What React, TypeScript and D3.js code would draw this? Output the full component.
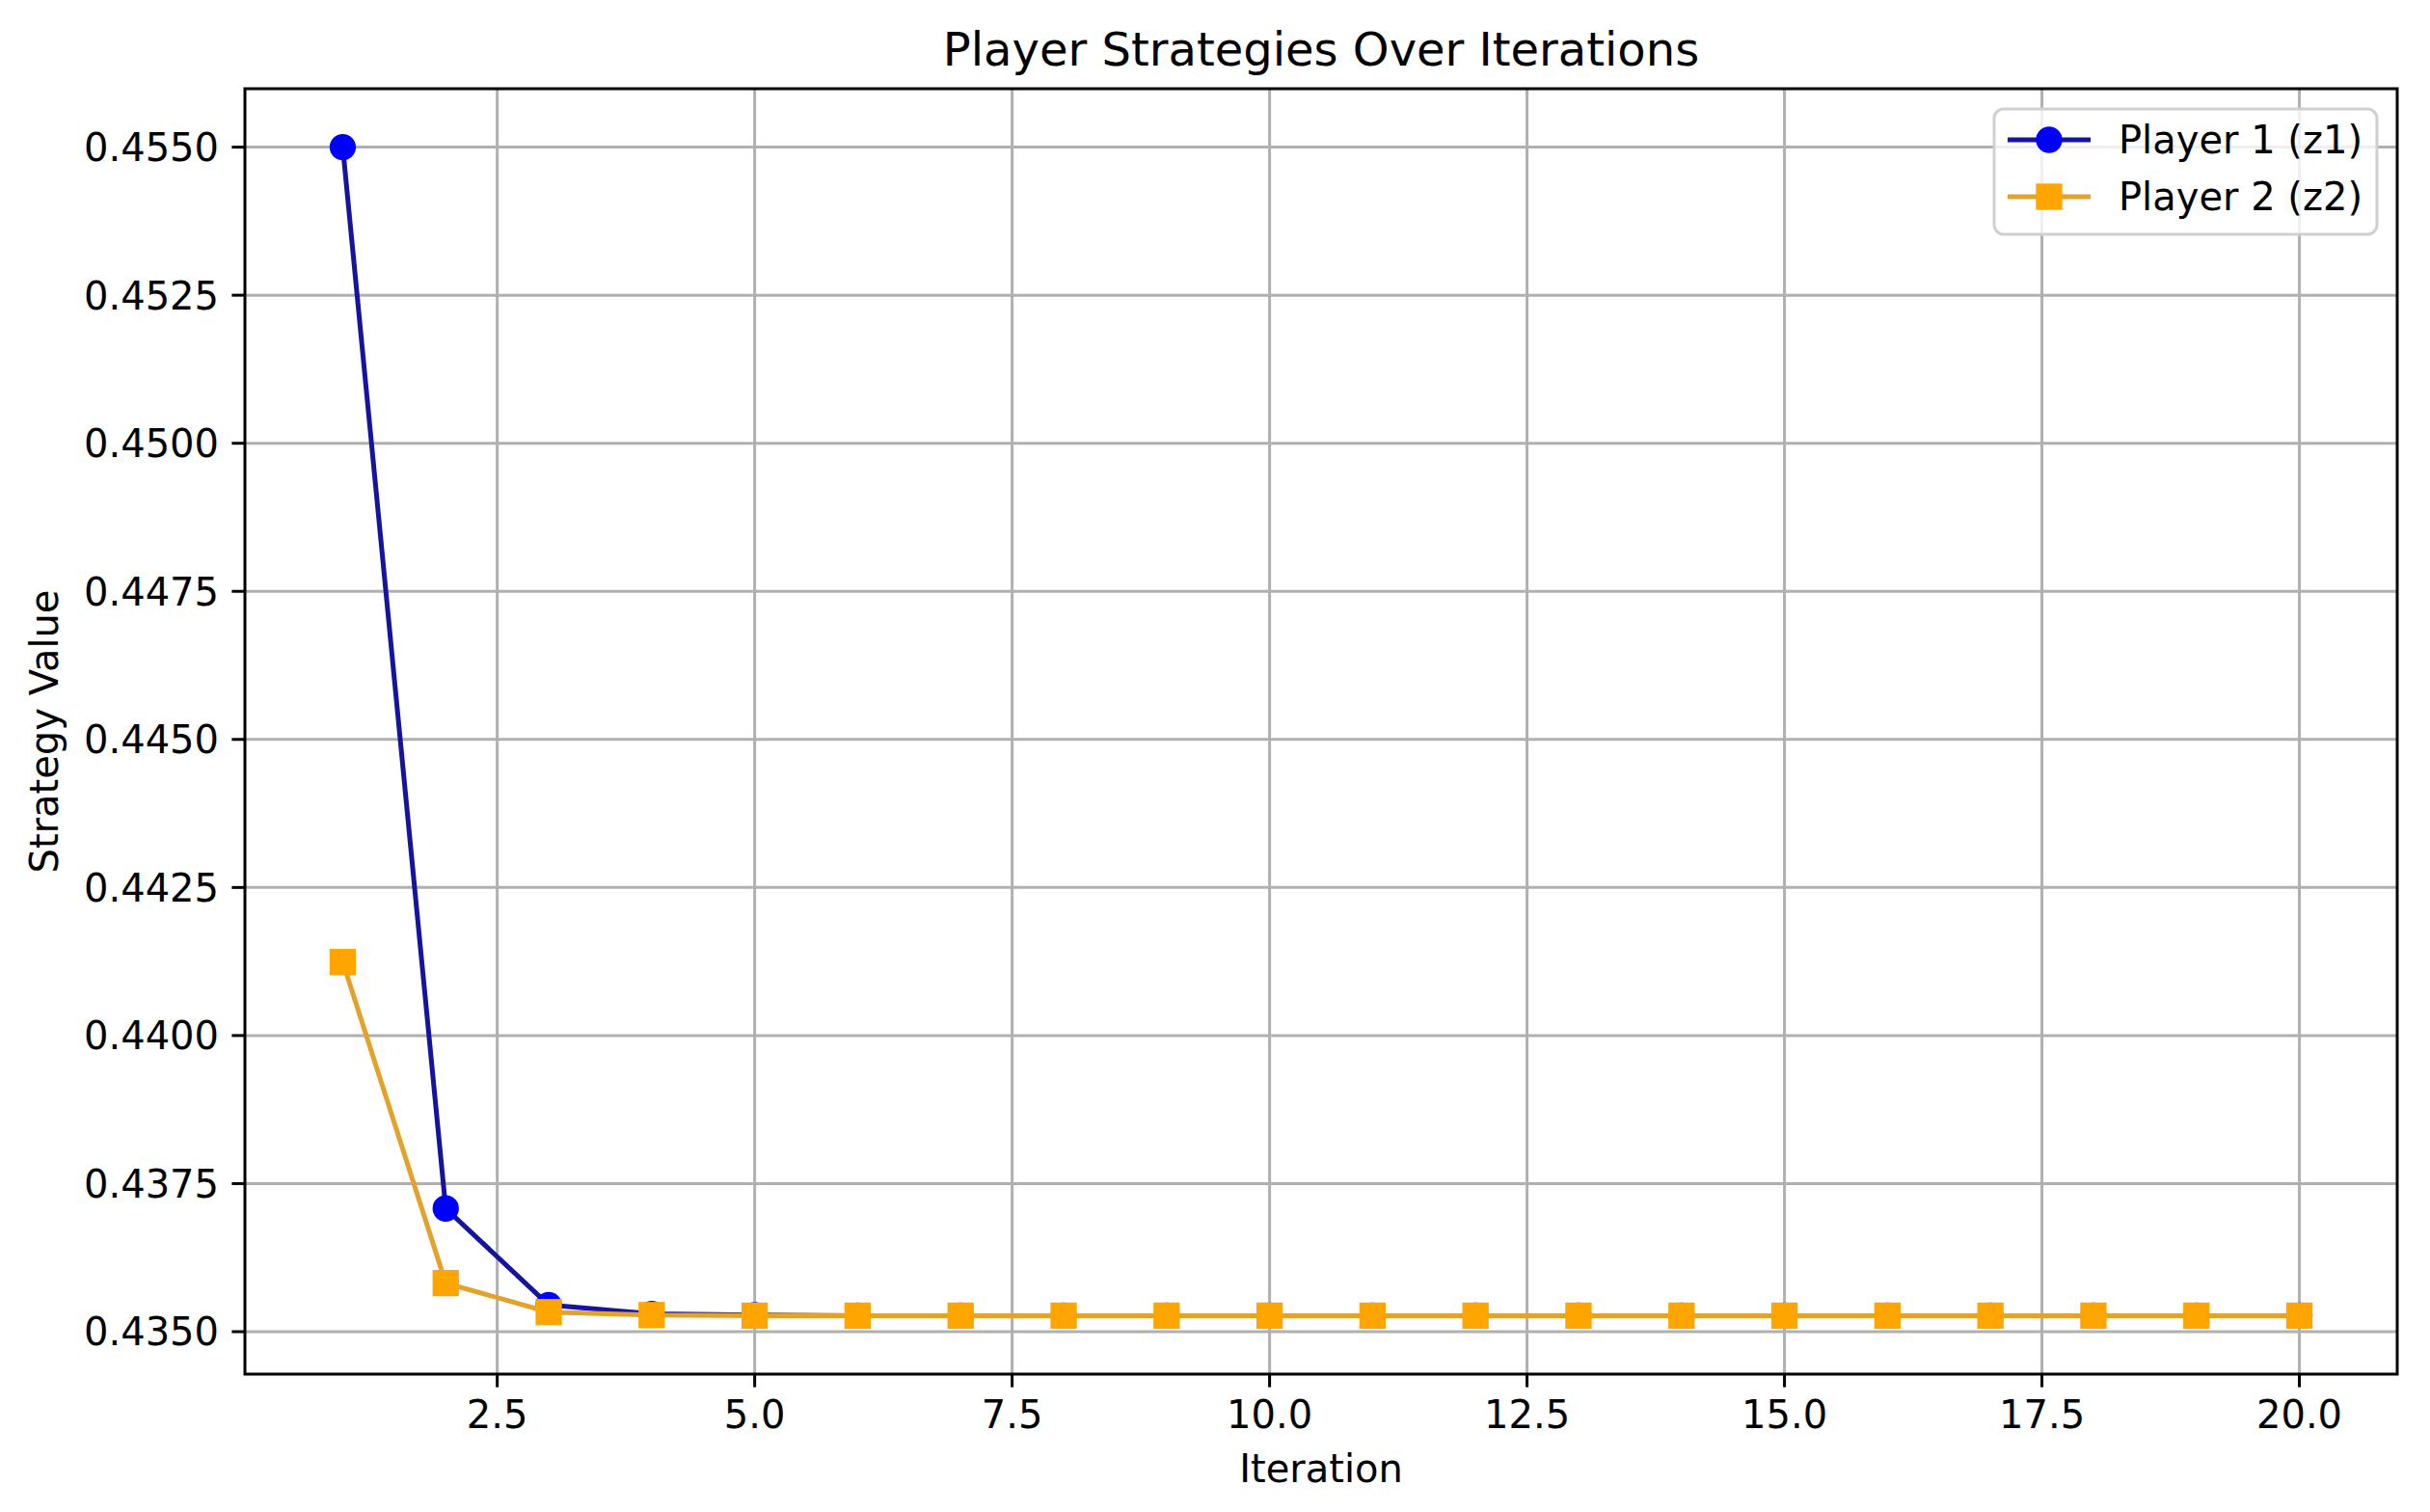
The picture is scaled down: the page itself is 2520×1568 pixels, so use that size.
import React from "react";
import * as d3 from "d3";

// values
const iterations = [1, 2, 3, 4, 5, 6, 7, 8, 9, 10, 11, 12, 13, 14, 15, 16, 17, 18, 19, 20];
const player1 = [
  0.455, 0.43708, 0.43545, 0.4353, 0.43528, 0.43527, 0.43527, 0.43527, 0.43527, 0.43527,
  0.43527, 0.43527, 0.43527, 0.43527, 0.43527, 0.43527, 0.43527, 0.43527, 0.43527, 0.43527,
];
const player2 = [
  0.44124, 0.43582, 0.43533, 0.43528, 0.43527, 0.43527, 0.43527, 0.43527, 0.43527, 0.43527,
  0.43527, 0.43527, 0.43527, 0.43527, 0.43527, 0.43527, 0.43527, 0.43527, 0.43527, 0.43527,
];
const xTicks = [2.5, 5, 7.5, 10, 12.5, 15, 17.5, 20];
const yTicks = [0.435, 0.4375, 0.44, 0.4425, 0.445, 0.4475, 0.45, 0.4525, 0.455];
const seriesNames = ["Player 1 (z1)", "Player 2 (z2)"];

const W = 2520;
const H = 1568;
const m = { left: 254, right: 2486, top: 92, bottom: 1425 };
const font = "'DejaVu Sans', sans-serif";

const App = () => {
  // matplotlib style 5% margins
  const xMin = d3.min(iterations)!;
  const xMax = d3.max(iterations)!;
  const xPad = (xMax - xMin) * 0.05;
  const allY = player1.concat(player2);
  const yMin = d3.min(allY)!;
  const yMax = d3.max(allY)!;
  const yPad = (yMax - yMin) * 0.05;

  const x = d3.scaleLinear().domain([xMin - xPad, xMax + xPad]).range([m.left, m.right]);
  const y = d3.scaleLinear().domain([yMin - yPad, yMax + yPad]).range([m.bottom, m.top]);

  const line = d3
    .line<number>()
    .x((d, i) => x(iterations[i]))
    .y((d) => y(d));

  const cx = (m.left + m.right) / 2;
  const cy = (m.top + m.bottom) / 2;
  const tickLen = 13.6;
  const ms = 23.4; // marker size

  return (
    <svg
      width={W}
      height={H}
      style={{ position: "absolute", left: 0, top: 0, background: "#fff" }}
      fontFamily={font}
    >
      <rect x={0} y={0} width={W} height={H} fill="#fff" />
      {/* grid */}
      {xTicks.map((t) => (
        <line key={"gx" + t} x1={x(t)} x2={x(t)} y1={m.top} y2={m.bottom} stroke="#b0b0b0" strokeWidth={3} />
      ))}
      {yTicks.map((t) => (
        <line key={"gy" + t} x1={m.left} x2={m.right} y1={y(t)} y2={y(t)} stroke="#b0b0b0" strokeWidth={3} />
      ))}

      {/* player 1 */}
      <path d={line(player1)!} fill="none" stroke="#14149e" strokeWidth={5} strokeLinejoin="round" />
      {player1.map((v, i) => (
        <circle key={"p1" + i} cx={x(iterations[i])} cy={y(v)} r={ms / 2} fill="#0000ff" stroke="#0000ff" strokeWidth={3.9} />
      ))}
      {/* player 2 */}
      <path d={line(player2)!} fill="none" stroke="#e2a22c" strokeWidth={5} strokeLinejoin="round" />
      {player2.map((v, i) => (
        <rect
          key={"p2" + i}
          x={x(iterations[i]) - ms / 2}
          y={y(v) - ms / 2}
          width={ms}
          height={ms}
          fill="#ffa500"
          stroke="#ffa500"
          strokeWidth={3.9}
        />
      ))}

      {/* spines */}
      <rect
        x={m.left}
        y={m.top}
        width={m.right - m.left}
        height={m.bottom - m.top}
        fill="none"
        stroke="#000"
        strokeWidth={3}
      />

      {/* x ticks */}
      {xTicks.map((t) => (
        <g key={"xt" + t}>
          <line x1={x(t)} x2={x(t)} y1={m.bottom} y2={m.bottom + tickLen} stroke="#000" strokeWidth={3} />
          <text x={x(t)} y={m.bottom + 56} fontSize={40} textAnchor="middle" fill="#000">
            {d3.format(".1f")(t)}
          </text>
        </g>
      ))}
      {/* y ticks */}
      {yTicks.map((t) => (
        <g key={"yt" + t}>
          <line x1={m.left - tickLen} x2={m.left} y1={y(t)} y2={y(t)} stroke="#000" strokeWidth={3} />
          <text x={m.left - 27} y={y(t)} dy="0.36em" fontSize={40} textAnchor="end" fill="#000">
            {d3.format(".4f")(t)}
          </text>
        </g>
      ))}

      {/* labels */}
      <text x={cx} y={68} fontSize={48} textAnchor="middle" fill="#000">
        Player Strategies Over Iterations
      </text>
      <text x={cx} y={1537} fontSize={40} textAnchor="middle" fill="#000">
        Iteration
      </text>
      <text
        transform={`translate(60, ${cy}) rotate(-90)`}
        fontSize={40}
        textAnchor="middle"
        fill="#000"
      >
        Strategy Value
      </text>

      {/* legend */}
      <g>
        <rect x={2068} y={113} width={397} height={130} rx={10} fill="#fff" fillOpacity={0.8} stroke="#d0d0d0" strokeWidth={3} />
        <line x1={2082} x2={2168} y1={145} y2={145} stroke="#14149e" strokeWidth={5} />
        <circle cx={2125} cy={145} r={ms / 2} fill="#0000ff" stroke="#0000ff" strokeWidth={3.9} />
        <text x={2197} y={145} dy="0.36em" fontSize={40} fill="#000">
          {seriesNames[0]}
        </text>
        <line x1={2082} x2={2168} y1={204} y2={204} stroke="#e2a22c" strokeWidth={5} />
        <rect x={2125 - ms / 2} y={204 - ms / 2} width={ms} height={ms} fill="#ffa500" stroke="#ffa500" strokeWidth={3.9} />
        <text x={2197} y={204} dy="0.36em" fontSize={40} fill="#000">
          {seriesNames[1]}
        </text>
      </g>
    </svg>
  );
};

export default App;
